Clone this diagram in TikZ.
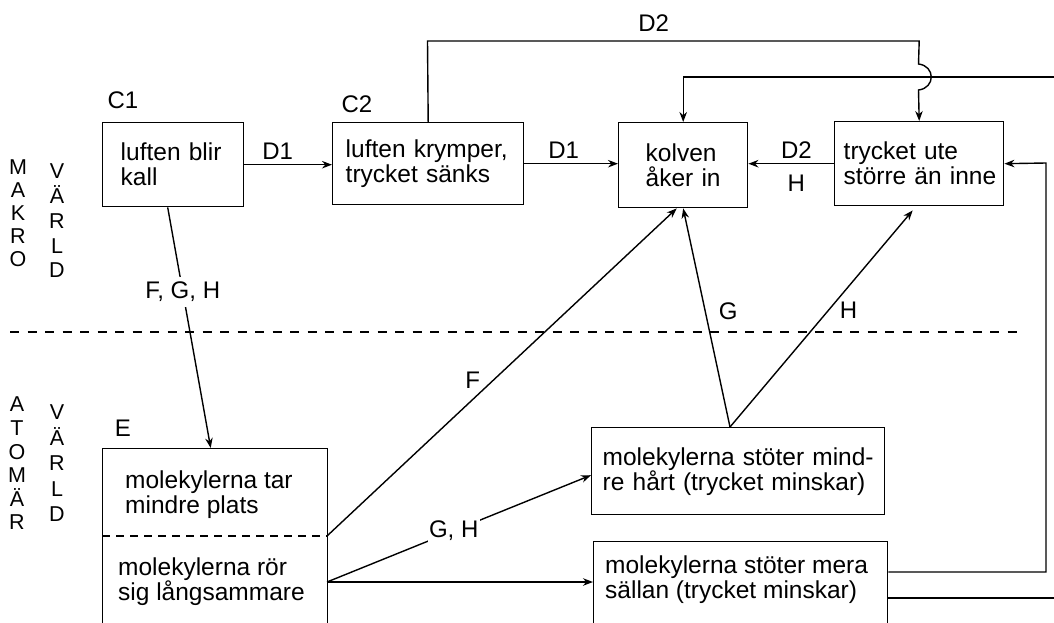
\documentclass[tikz,border=0pt]{standalone}
\usepackage{fontspec}
\setmainfont{Liberation Sans}
\usetikzlibrary{arrows.meta}
\begin{document}
\begin{tikzpicture}[x=1pt,y=-1pt,
  every node/.style={inner sep=0pt},
  box/.style={draw, line width=1.4pt, anchor=north west, align=left, inner ysep=0pt,
    font=\fontsize{24.5}{25}\selectfont},
  txt/.style={anchor=north west, align=left, font=\fontsize{24.5}{25}\selectfont},
  lbl/.style={font=\fontsize{24}{24}\selectfont, inner sep=1pt},
  tag/.style={font=\fontsize{24}{24}\selectfont},
  side/.style={align=center, anchor=north},
  con/.style={line width=1.4pt},
  arr/.style={con, -{Stealth[length=10pt,width=7.5pt]}},
  divider/.style={line width=1.4pt, dash pattern=on 9pt off 8.5pt},
  subdiv/.style={line width=1.4pt, dash pattern=on 8pt off 6pt},
]
\useasboundingbox (0,0) rectangle (1054,623);
\clip (0,0) rectangle (1054,623);

% side labels
\node[side, font=\fontsize{21.5}{23}\selectfont] (makro) at (18,160) {M\\A\\K\\R\\O};
\node[side, font=\fontsize{21.5}{24.75}\selectfont] (varld1) at (57,164) {V\\Ä\\R\\L\\D};
\node[side, font=\fontsize{21.5}{23.6}\selectfont] (atomar) at (17,397) {A\\T\\O\\M\\Ä\\R};
\node[side, font=\fontsize{21.5}{25.5}\selectfont] (varld2) at (57,405) {V\\Ä\\R\\L\\D};

% boxes
\node[box, minimum width=141pt, minimum height=84pt, inner xsep=18pt, text width=105pt] (c1) at (102,122) {luften blir\\kall};
\node[box, minimum width=191pt, minimum height=82pt, inner xsep=13pt, text width=165pt] (c2) at (332,122) {luften krymper,\\trycket sänks};
\node[box, minimum width=129pt, minimum height=85pt, inner xsep=27pt, text width=75pt] (kolv) at (618,122) {kolven\\åker in};
\node[box, minimum width=169pt, minimum height=84pt, inner xsep=5pt, text width=159pt] (tryck) at (834,121) {\hspace*{4pt}trycket ute\\\hspace*{4pt}större än inne};
\node[box, minimum width=293pt, minimum height=87pt, inner xsep=11pt, text width=271pt] (hart) at (591,427) {molekylerna stöter mind-\\re hårt (trycket minskar)};
\node[box, minimum width=225pt, minimum height=220pt] (E) at (102,448) {};
\node[box, minimum width=294pt, minimum height=140pt] (mera) at (593,541) {};

\node[txt] (et1) at (125,470.5) {molekylerna tar\\mindre plats};
\node[txt] (et2) at (118,557.5) {molekylerna rör\\sig långsammare};
\node[txt] (mt) at (605,555.5) {molekylerna stöter mera\\sällan (trycket minskar)};

% tags
\node[tag] (lc1) at (123,100) {C1};
\node[tag] (lc2) at (357,104) {C2};
\node[tag] (le) at (123,428) {E};

% coordinates
\coordinate (ed1) at (102,536);
\coordinate (Edv) at (327,536);
\coordinate (Emv) at (327,582);
\coordinate (hb) at (730,427);
\coordinate (tp) at (427.5,41);
\coordinate (rt) at (1054,77);
\coordinate (rx) at (1046,163);
\coordinate (rb) at (1054,598);
\coordinate (dl) at (10,332);
\coordinate (dr) at (1023,332);

% dividers
\draw[divider] (dl) -- (dr);
\draw[subdiv] (ed1) -- (Edv);

% connectors
\draw[arr] (c1.east) -- node[lbl, above=4pt, pos=0.38] {D1} (c1.east -| c2.west);
\draw[arr] (c2.east) -- node[lbl, above=4pt, pos=0.42] {D1} (c2.east -| kolv.west);
\draw[arr] (tryck.west) -- node[lbl, above=4pt, pos=0.44] {D2} node[lbl, below=10pt, pos=0.44] {H} (tryck.west -| kolv.east);

\draw[arr] (c2.north) -- (tp) -- node[lbl, above=8pt, pos=0.46] {D2} (tp -| tryck.north)
  -- (918.5,64) .. controls (935.5,66) and (935.5,88) .. (918.5,90) -- (tryck.north);
\draw[arr] (rt) -| (kolv.north);

\draw[arr] ([yshift=-31pt]mera.north east) -| (rx) -- (tryck.east);
\draw[con] ([yshift=-57pt]mera.north east) -- (rb);

\draw[arr] ([xshift=-5.5pt]c1.south) -- node[lbl, fill=white, pos=0.35, inner sep=5pt] {F, G, H} ([xshift=-4.5pt]E.north);
\draw[arr] (Edv) -- node[lbl, pos=0.474, left=11pt] {F} ([xshift=-6.5pt]kolv.south);
\draw[arr] (Emv) -- node[lbl, fill=white, pos=0.48, inner sep=1.5pt] {G, H} ([yshift=-4pt]hart.west);
\draw[arr] (Emv) -- (Emv -| mera.west);
\draw[arr] (hb) -- node[lbl, pos=0.53, right=12pt] {G} (kolv.south);
\draw[arr] (hb) -- node[lbl, pos=0.537, right=10pt] {H} ([xshift=-6.5pt, yshift=-4pt]tryck.south);
\end{tikzpicture}
\end{document}
